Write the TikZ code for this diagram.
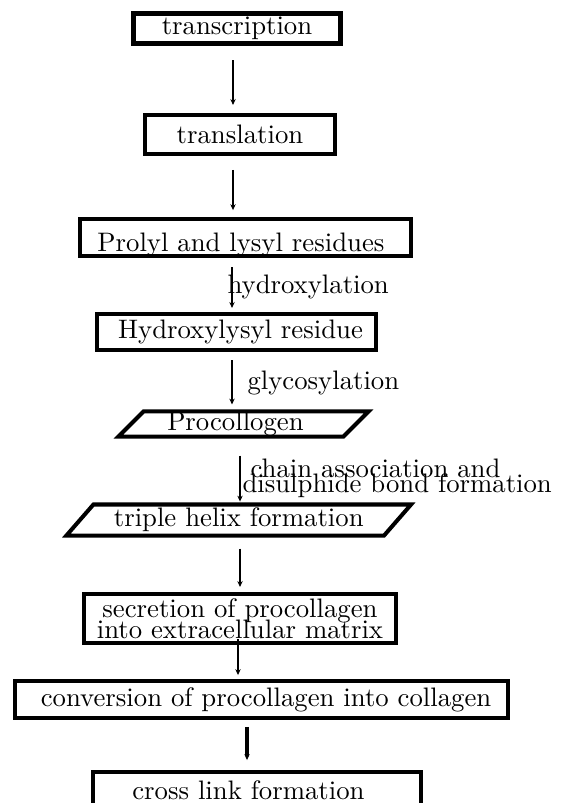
\documentclass[tikz,border=0pt]{standalone}
\usetikzlibrary{arrows.meta}
\begin{document}
\begin{tikzpicture}[x=0.374pt,y=-0.374pt,
  box/.style={draw,line width=1.5pt,inner sep=0pt,align=center},
  pbox/.style={inner sep=0pt,align=center},
  pline/.style={line width=1.5pt},
  arr/.style={line width=1.05pt,-{Stealth[length=2.2pt,width=2pt]}},
  lbl/.style={inner sep=0pt}]
\clip (0,0) rectangle (564,803);
% nodes
\node[box,line width=1.8pt,minimum width=77.4pt,minimum height=11.2pt] (tc) at (237,28.5) {transcription};
\node[box,minimum width=71.1pt,minimum height=14.6pt] (tl) at (240,134.5) {translation};
\node[box,minimum width=123.8pt,minimum height=13.8pt] (pr) at (245.5,237.5) {\raisebox{-2.9pt}[6.94pt][1.94pt]{\kern-3.4pt Prolyl and lysyl residues}};
\node[box,minimum width=104.3pt,minimum height=13.5pt] (hy) at (236.5,332) {\kern3pt Hydroxylysyl residue};
\node[pbox,minimum width=83.8pt,minimum height=9pt] (pc) at (243.5,424) {Procollogen\kern6pt};
\node[pbox,minimum width=118.4pt,minimum height=11.2pt] (tx) at (238.75,520) {triple helix formation};
\node[box,minimum width=116.7pt,minimum height=18.3pt] (sc) at (240,618.5) {secretion of procollagen\\[-4.15pt]into extracellular matrix};
\node[box,minimum width=184.4pt,minimum height=13.8pt] (cv) at (261.5,699.5) {\kern3.4pt conversion of procollagen into collagen};
\node[box,minimum width=122.7pt,minimum height=13.5pt] (cl) at (257,790) {cross link formation\kern6.4pt};
% parallelogram outlines
\draw[pline] ([xshift=4.7pt]pc.north west) -- ([xshift=4.7pt]pc.north east) -- ([xshift=-4.7pt]pc.south east) -- ([xshift=-4.7pt]pc.south west) -- cycle;
\draw[pline] ([xshift=5.05pt]tx.north west) -- ([xshift=5.05pt]tx.north east) -- ([xshift=-5.05pt]tx.south east) -- ([xshift=-5.05pt]tx.south west) -- cycle;
% arrow columns
\coordinate (c1) at (233,0);
\coordinate (c2) at (232,0);
\coordinate (c3) at (240,0);
\coordinate (c4) at (238,0);
\coordinate (c5) at (247,0);
% connectors
\draw[arr,shorten <=5.4pt,shorten >=3pt] (tc.south -| c1) -- (tl.north -| c1);
\draw[arr,shorten <=5.2pt,shorten >=2.6pt] (tl.south -| c1) -- (pr.north -| c1);
\draw[arr,shorten <=3.4pt,shorten >=1.5pt] (pr.south -| c2) -- (hy.north -| c2);
\draw[arr,shorten <=3pt,shorten >=2.6pt] (hy.south -| c2) -- (pc.north -| c2);
\draw[arr,shorten <=7.1pt,shorten >=1.1pt] (pc.south -| c3) -- (tx.north -| c3);
\draw[arr,shorten <=4.9pt,shorten >=1.9pt] (tx.south -| c3) -- (sc.north -| c3);
\draw[arr,shorten <=-2.2pt,shorten >=1.5pt] (sc.south -| c4) -- (cv.north -| c4);
\draw[arr,line width=1.6pt,shorten <=2.6pt,shorten >=3.7pt] (cv.south -| c5) -- (cl.north -| c5);
% labels
\node[lbl,anchor=base west] (l1) at (227,293.3) {hydroxylation};
\node[lbl,anchor=base west] (l2) at (247,390) {glycosylation};
\node[lbl,anchor=south west,align=left] (l3) at (242,498.2) {\hspace*{3pt}chain association and\\[-6.4pt]disulphide bond formation};
\end{tikzpicture}
\end{document}
